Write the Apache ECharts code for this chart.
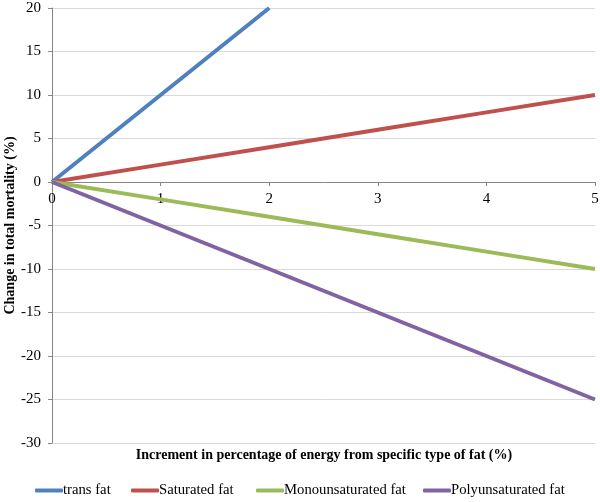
<!DOCTYPE html>
<html><head><meta charset="utf-8">
<script src="https://cdn.jsdelivr.net/npm/echarts@6/dist/echarts.min.js"></script>
<style>html,body{margin:0;padding:0;background:#fff}#c{width:600px;height:502px}</style>
</head><body><div id="c"></div>
<script>
var xValues = [0, 1, 2, 3, 4, 5];
var transX = [0, 1, 2];
var transFat = [0, 10, 20];
var saturatedFat = [0, 2, 4, 6, 8, 10];
var monoFat = [0, -2, -4, -6, -8, -10];
var polyFat = [0, -5, -10, -15, -20, -25];
var seriesNames = ['trans fat', 'Saturated fat', 'Monounsaturated fat', 'Polyunsaturated fat'];
var colors = ['#4F81BD', '#C0504D', '#9BBB59', '#8064A2'];
var xName = 'Increment in percentage of energy from specific type of fat (%)';
var yName = 'Change in total mortality (%)';
var legendLefts = [35, 131, 256, 423];

function pairs(xs, ys){ return xs.map(function(x,i){ return [x, ys[i]]; }); }
var font = '"Liberation Serif","Times New Roman",serif';
var chart = echarts.init(document.getElementById('c'));
var sdata = [pairs(transX, transFat), pairs(xValues, saturatedFat), pairs(xValues, monoFat), pairs(xValues, polyFat)];
chart.setOption({
  animation: false,
  color: colors,
  grid: {left: 52, right: 5, top: 8, bottom: 59, containLabel: false, outerBoundsMode: 'none'},
  legend: seriesNames.map(function(n, i){
    return {
      left: legendLefts[i], top: 483, itemWidth: 28, itemHeight: 4, icon: 'roundRect',
      padding: 0,
      textStyle: {fontFamily: font, fontSize: 14.7, color: '#000', padding: [0,0,0,-5]},
      data: [n]
    };
  }),
  graphic: [{
    type: 'text', x: 324, y: 455,
    style: {text: xName, font: 'bold 14px ' + font, fill: '#000', align: 'center', verticalAlign: 'middle'}
  }],
  xAxis: {
    type: 'value', min: 0, max: 5, interval: 1,
    offset: -261,
    axisLine: {onZero: false, lineStyle: {color: '#868686', width: 1}},
    axisTick: {show: true, inside: false, length: 4, lineStyle: {color: '#868686'}},
    axisLabel: {fontFamily: font, fontSize: 15, color: '#000', margin: 10},
    splitLine: {show: false}
  },
  yAxis: {
    type: 'value', min: -30, max: 20, interval: 5,
    name: yName, nameLocation: 'middle', nameGap: 35, nameMoveOverlap: false,
    nameTextStyle: {fontFamily: font, fontSize: 14, fontWeight: 'bold', color: '#000'},
    axisLine: {show: true, lineStyle: {color: '#868686', width: 1}},
    axisTick: {show: true, length: 4, lineStyle: {color: '#868686'}},
    axisLabel: {fontFamily: font, fontSize: 15, color: '#000', margin: 11},
    splitLine: {show: true, lineStyle: {color: '#D9D9D9', width: 1}}
  },
  series: seriesNames.map(function(n, i){
    return {name: n, type: 'line', data: sdata[i], symbol: 'none', lineStyle: {width: 4}, z: 2 + i};
  })
});
</script></body></html>
